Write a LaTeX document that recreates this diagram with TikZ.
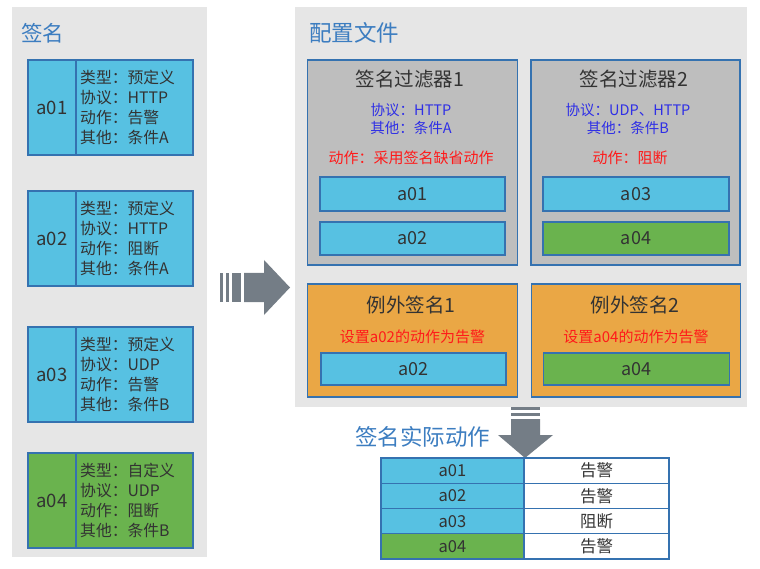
\documentclass[tikz,border=0pt]{standalone}
\usepackage{fontspec}
\setmainfont{Noto Sans CJK SC}
\definecolor{panelgray}{HTML}{E6E6E6}
\definecolor{lineblue}{HTML}{3572B0}
\definecolor{cyanfill}{HTML}{57C1E2}
\definecolor{greenfill}{HTML}{6AB34E}
\definecolor{orangefill}{HTML}{EAA745}
\definecolor{filtergray}{HTML}{BEBEBE}
\definecolor{titleblue}{HTML}{3C7DC0}
\definecolor{textdark}{HTML}{333333}
\definecolor{arrowgray}{HTML}{747D86}
\definecolor{condblue}{HTML}{2F2FE6}
\definecolor{actred}{HTML}{FF1A1A}
\begin{document}
\begin{tikzpicture}[x=1pt,y=-1pt,
  panel/.style={fill=panelgray,draw=none},
  box/.style={draw=lineblue,line width=1.2pt,inner sep=0pt,outer sep=0pt,text=textdark},
  idcell/.style={box,font=\fontsize{18.5}{20}\selectfont},
  info/.style={anchor=west,align=left,inner sep=0pt,text=textdark,font=\fontsize{15.8}{20}\selectfont},
  heading/.style={anchor=west,inner sep=0pt,text=titleblue},
  boxtitle/.style={inner sep=0pt,text=textdark,font=\fontsize{19.5}{22}\selectfont},
  cond/.style={inner sep=0pt,align=center,text=condblue,font=\fontsize{14.5}{18.5}\selectfont},
  act/.style={inner sep=0pt,text=actred,font=\fontsize{15}{18}\selectfont},
  member/.style={box,minimum width=185pt,minimum height=33pt,font=\fontsize{18}{20}\selectfont},
  cell/.style={box,minimum height=25.25pt,font=\fontsize{16.5}{18}\selectfont},
  blockarrow/.style={fill=arrowgray,draw=none}]

\useasboundingbox (0,0) rectangle (760,569);

% panels
\fill[panel] (12,7) rectangle (207,557);
\fill[panel] (295,7) rectangle (747,407);

\node[heading,font=\fontsize{21.5}{24}\selectfont] (sigtitle) at (21,33) {签名};
\node[heading,font=\fontsize{22.5}{24}\selectfont] (cfgtitle) at (309,33) {配置文件};

% signature list
\node[idcell,fill=cyanfill,minimum width=48pt,minimum height=95pt] (s1id) at (52,107.5) {a01};
\node[box,fill=cyanfill,minimum width=117pt,minimum height=95pt] (s1info) at (134.5,107.5) {};
\node[info] at (80,107.5) {类型：预定义\\协议：HTTP\\动作：告警\\其他：条件A};

\node[idcell,fill=cyanfill,minimum width=48pt,minimum height=95pt] (s2id) at (52,238.5) {a02};
\node[box,fill=cyanfill,minimum width=117pt,minimum height=95pt] (s2info) at (134.5,238.5) {};
\node[info] at (80,238.5) {类型：预定义\\协议：HTTP\\动作：阻断\\其他：条件A};

\node[idcell,fill=cyanfill,minimum width=48pt,minimum height=95pt] (s3id) at (52,374.5) {a03};
\node[box,fill=cyanfill,minimum width=117pt,minimum height=95pt] (s3info) at (134.5,374.5) {};
\node[info] at (80,374.5) {类型：预定义\\协议：UDP\\动作：告警\\其他：条件B};

\node[idcell,fill=greenfill,minimum width=48pt,minimum height=95pt] (s4id) at (52,500.5) {a04};
\node[box,fill=greenfill,minimum width=117pt,minimum height=95pt] (s4info) at (134.5,500.5) {};
\node[info] at (80,500.5) {类型：自定义\\协议：UDP\\动作：阻断\\其他：条件B};

% signature filters
\node[box,fill=filtergray,minimum width=210pt,minimum height=205pt] (f1) at (412.5,162.5) {};
\node[boxtitle] (f1t) at (410,79) {签名过滤器1};
\node[cond] (f1c) at (411,119) {协议：HTTP\\其他：条件A};
\node[act] (f1a) at (411,158) {动作：采用签名缺省动作};
\node[member,fill=cyanfill,minimum height=34pt] (f1m1) at (412.5,194) {a01};
\node[member,fill=cyanfill] (f1m2) at (412.5,238.5) {a02};

\node[box,fill=filtergray,minimum width=209pt,minimum height=205pt] (f2) at (635.5,162.5) {};
\node[boxtitle] (f2t) at (634,79) {签名过滤器2};
\node[cond] (f2c) at (628,119) {协议：UDP、HTTP\\其他：条件B};
\node[act] (f2a) at (630,158) {动作：阻断};
\node[member,fill=cyanfill,minimum width=186pt,minimum height=34pt] (f2m1) at (636,194) {a03};
\node[member,fill=greenfill,minimum width=186pt] (f2m2) at (636,238.5) {a04};

% exception signatures
\node[box,fill=orangefill,minimum width=210pt,minimum height=113pt] (e1) at (412.5,340.5) {};
\node[boxtitle] (e1t) at (411,305) {例外签名1};
\node[act] (e1a) at (412.5,337) {设置a02的动作为告警};
\node[member,fill=cyanfill,minimum height=32pt] (e1m) at (413.5,369) {a02};

\node[box,fill=orangefill,minimum width=209pt,minimum height=113pt] (e2) at (636,340.5) {};
\node[boxtitle] (e2t) at (635,305) {例外签名2};
\node[act] (e2a) at (636,337) {设置a04的动作为告警};
\node[member,fill=greenfill,minimum width=186pt,minimum height=32pt] (e2m) at (636.5,369) {a04};

% striped arrow to the configuration
\fill[blockarrow] (220,273) rectangle (223,302);
\fill[blockarrow] (226,273) rectangle (229,302);
\fill[blockarrow] (232,273) rectangle (241,302);
\fill[blockarrow] (244,273) -- (264,273) -- (264,260) -- (290,287.5) -- (264,315) -- (264,302) -- (244,302) -- cycle;

% striped arrow down to the result table
\fill[blockarrow] (511,407) rectangle (540,410);
\fill[blockarrow] (511,413) rectangle (540,416);
\fill[blockarrow] (511,419) -- (540,419) -- (540,435) -- (553,435) -- (525,458) -- (498,435) -- (511,435) -- cycle;

\node[heading,font=\fontsize{22.5}{24}\selectfont] (restitle) at (355,437) {签名实际动作};

% resulting actions
\node[cell,fill=cyanfill,minimum width=143pt] (r1a) at (452.5,470.625) {a01};
\node[cell,fill=white,minimum width=145pt] (r1b) at (596.5,470.625) {告警};
\node[cell,fill=cyanfill,minimum width=143pt] (r2a) at (452.5,495.875) {a02};
\node[cell,fill=white,minimum width=145pt] (r2b) at (596.5,495.875) {告警};
\node[cell,fill=cyanfill,minimum width=143pt] (r3a) at (452.5,521.125) {a03};
\node[cell,fill=white,minimum width=145pt] (r3b) at (596.5,521.125) {阻断};
\node[cell,fill=greenfill,minimum width=143pt] (r4a) at (452.5,546.375) {a04};
\node[cell,fill=white,minimum width=145pt] (r4b) at (596.5,546.375) {告警};
\end{tikzpicture}
\end{document}
